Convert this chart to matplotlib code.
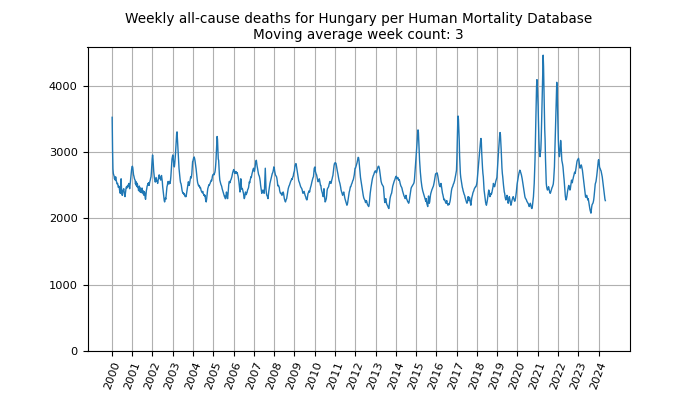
import datetime
import matplotlib
matplotlib.use("Agg")
import matplotlib.pyplot as plt

# weekly deaths (3-week moving average), one list per ISO year
deaths_2000 = [3530, 3050, 2750, 2680, 2660, 2640, 2600, 2620, 2580, 2630, 2590, 2560, 2540, 2520, 2530, 2500, 2470, 2490, 2480, 2430, 2400, 2380, 2480, 2600, 2460, 2390, 2350, 2400, 2420, 2440, 2450, 2390, 2350, 2330, 2380, 2430, 2470, 2480, 2460, 2490, 2500, 2480, 2510, 2530, 2490, 2450, 2500, 2560, 2630, 2680, 2740, 2780]
deaths_2001 = [2790, 2770, 2720, 2660, 2640, 2610, 2590, 2580, 2520, 2560, 2500, 2540, 2480, 2520, 2470, 2460, 2420, 2470, 2490, 2440, 2400, 2460, 2440, 2390, 2430, 2460, 2400, 2420, 2370, 2410, 2350, 2400, 2380, 2310, 2290, 2360, 2420, 2450, 2490, 2500, 2530, 2510, 2540, 2500, 2530, 2560, 2580, 2610, 2630, 2700, 2800, 2900]
deaths_2002 = [2960, 2900, 2800, 2710, 2650, 2600, 2580, 2550, 2590, 2620, 2590, 2560, 2570, 2530, 2570, 2610, 2640, 2660, 2630, 2600, 2620, 2580, 2630, 2650, 2610, 2560, 2480, 2430, 2380, 2320, 2270, 2250, 2280, 2310, 2290, 2350, 2420, 2480, 2500, 2540, 2560, 2530, 2520, 2550, 2560, 2530, 2570, 2630, 2720, 2830, 2900, 2930]
deaths_2003 = [2960, 2930, 2850, 2800, 2780, 2830, 2900, 2980, 3080, 3200, 3290, 3310, 3200, 3080, 2960, 2850, 2760, 2700, 2640, 2580, 2540, 2530, 2500, 2460, 2420, 2400, 2380, 2390, 2380, 2360, 2370, 2350, 2330, 2340, 2330, 2360, 2400, 2440, 2480, 2530, 2555, 2540, 2500, 2520, 2560, 2600, 2630, 2610, 2630, 2680, 2780, 2860]
deaths_2004 = [2870, 2900, 2920, 2930, 2910, 2880, 2840, 2800, 2750, 2690, 2630, 2580, 2540, 2520, 2500, 2490, 2500, 2480, 2460, 2470, 2450, 2420, 2410, 2400, 2390, 2410, 2380, 2370, 2350, 2360, 2340, 2350, 2300, 2270, 2250, 2290, 2350, 2400, 2450, 2470, 2490, 2510, 2500, 2520, 2530, 2550, 2560, 2580, 2570, 2600, 2640, 2660]
deaths_2005 = [2670, 2660, 2680, 2690, 2720, 2780, 2860, 2980, 3120, 3240, 3200, 3050, 2900, 2880, 2760, 2650, 2580, 2555, 2530, 2510, 2500, 2480, 2450, 2430, 2410, 2390, 2370, 2350, 2330, 2340, 2300, 2300, 2340, 2400, 2380, 2330, 2300, 2360, 2440, 2510, 2555, 2560, 2540, 2560, 2580, 2590, 2610, 2630, 2660, 2690, 2710, 2730]
deaths_2006 = [2740, 2720, 2690, 2680, 2700, 2710, 2690, 2700, 2680, 2690, 2660, 2640, 2600, 2560, 2500, 2450, 2400, 2480, 2600, 2500, 2470, 2440, 2450, 2430, 2400, 2380, 2330, 2300, 2320, 2360, 2400, 2390, 2360, 2380, 2390, 2420, 2440, 2450, 2470, 2510, 2555, 2540, 2580, 2600, 2630, 2620, 2650, 2680, 2700, 2730, 2750, 2760]
deaths_2007 = [2740, 2710, 2740, 2790, 2840, 2870, 2880, 2830, 2790, 2760, 2720, 2690, 2660, 2650, 2630, 2600, 2560, 2500, 2460, 2420, 2380, 2400, 2420, 2430, 2410, 2400, 2380, 2450, 2620, 2760, 2600, 2430, 2380, 2350, 2340, 2320, 2300, 2360, 2410, 2450, 2490, 2530, 2555, 2580, 2600, 2630, 2650, 2680, 2690, 2710, 2740, 2780]
deaths_2008 = [2770, 2720, 2690, 2660, 2650, 2640, 2630, 2600, 2560, 2500, 2490, 2500, 2480, 2470, 2420, 2400, 2380, 2390, 2370, 2360, 2350, 2370, 2390, 2400, 2380, 2340, 2300, 2280, 2260, 2250, 2270, 2290, 2300, 2340, 2380, 2420, 2450, 2470, 2490, 2500, 2520, 2540, 2555, 2570, 2580, 2600, 2590, 2610, 2630, 2640, 2680, 2700]
deaths_2009 = [2720, 2780, 2810, 2820, 2830, 2800, 2760, 2720, 2680, 2640, 2600, 2570, 2555, 2540, 2520, 2500, 2480, 2470, 2460, 2450, 2430, 2400, 2380, 2390, 2400, 2410, 2380, 2360, 2340, 2330, 2300, 2290, 2280, 2300, 2340, 2380, 2390, 2400, 2420, 2400, 2430, 2460, 2480, 2500, 2530, 2555, 2580, 2600, 2620, 2630, 2690, 2760]
deaths_2010 = [2780, 2710, 2690, 2670, 2660, 2630, 2600, 2580, 2555, 2570, 2590, 2600, 2570, 2530, 2500, 2500, 2450, 2420, 2400, 2380, 2350, 2330, 2380, 2450, 2350, 2300, 2250, 2260, 2280, 2300, 2350, 2420, 2450, 2460, 2470, 2480, 2510, 2530, 2555, 2560, 2540, 2530, 2550, 2580, 2600, 2630, 2650, 2700, 2750, 2800, 2830, 2840]
deaths_2011 = [2830, 2840, 2830, 2800, 2760, 2730, 2700, 2670, 2630, 2600, 2570, 2550, 2530, 2500, 2470, 2430, 2410, 2390, 2370, 2350, 2370, 2390, 2400, 2360, 2330, 2300, 2280, 2260, 2240, 2220, 2200, 2210, 2240, 2280, 2320, 2360, 2400, 2420, 2450, 2480, 2480, 2500, 2520, 2530, 2550, 2570, 2580, 2600, 2630, 2660, 2710, 2760]
deaths_2012 = [2760, 2780, 2800, 2820, 2840, 2870, 2900, 2925, 2920, 2880, 2810, 2740, 2680, 2620, 2580, 2540, 2500, 2460, 2420, 2380, 2350, 2320, 2300, 2290, 2280, 2260, 2240, 2250, 2270, 2260, 2230, 2210, 2200, 2190, 2180, 2200, 2250, 2320, 2380, 2430, 2470, 2510, 2550, 2580, 2610, 2630, 2650, 2660, 2680, 2700, 2710, 2720]
deaths_2013 = [2720, 2700, 2690, 2710, 2740, 2760, 2780, 2790, 2790, 2770, 2740, 2700, 2650, 2600, 2560, 2540, 2520, 2510, 2500, 2490, 2480, 2400, 2320, 2260, 2240, 2280, 2300, 2260, 2230, 2210, 2200, 2190, 2170, 2160, 2150, 2200, 2260, 2300, 2330, 2350, 2370, 2380, 2420, 2460, 2490, 2510, 2530, 2550, 2570, 2580, 2600, 2620]
deaths_2014 = [2630, 2640, 2620, 2600, 2610, 2620, 2600, 2580, 2590, 2580, 2560, 2530, 2510, 2490, 2480, 2470, 2450, 2420, 2400, 2380, 2360, 2340, 2330, 2320, 2300, 2330, 2350, 2320, 2290, 2280, 2260, 2250, 2240, 2230, 2250, 2290, 2340, 2380, 2420, 2450, 2470, 2480, 2490, 2500, 2510, 2520, 2530, 2550, 2600, 2680, 2760, 2830]
deaths_2015 = [2900, 3000, 3100, 3200, 3280, 3340, 3300, 3150, 3000, 2880, 2780, 2700, 2630, 2570, 2520, 2480, 2450, 2420, 2400, 2380, 2360, 2340, 2320, 2300, 2280, 2260, 2300, 2250, 2220, 2200, 2180, 2260, 2340, 2280, 2230, 2250, 2300, 2350, 2380, 2400, 2420, 2440, 2450, 2470, 2480, 2500, 2530, 2560, 2600, 2640, 2670, 2680]
deaths_2016 = [2680, 2690, 2670, 2640, 2600, 2560, 2530, 2500, 2490, 2480, 2500, 2530, 2500, 2460, 2420, 2380, 2360, 2330, 2300, 2280, 2290, 2280, 2260, 2240, 2230, 2250, 2270, 2230, 2220, 2200, 2210, 2220, 2210, 2230, 2250, 2280, 2330, 2380, 2420, 2450, 2470, 2480, 2500, 2520, 2530, 2550, 2570, 2600, 2630, 2660, 2700, 2730]
deaths_2017 = [2900, 3190, 3400, 3550, 3500, 3350, 3190, 2950, 2800, 2680, 2620, 2580, 2540, 2500, 2470, 2450, 2420, 2400, 2380, 2360, 2350, 2320, 2300, 2280, 2260, 2240, 2230, 2250, 2280, 2330, 2300, 2270, 2320, 2310, 2260, 2230, 2200, 2250, 2300, 2330, 2350, 2380, 2400, 2410, 2430, 2450, 2460, 2470, 2480, 2480, 2500, 2520]
deaths_2018 = [2560, 2630, 2700, 2760, 2830, 2900, 2960, 3030, 3120, 3180, 3210, 3150, 2980, 2860, 2760, 2680, 2630, 2520, 2430, 2380, 2330, 2280, 2240, 2220, 2200, 2230, 2260, 2300, 2330, 2380, 2430, 2400, 2360, 2330, 2340, 2360, 2380, 2370, 2390, 2420, 2450, 2480, 2530, 2510, 2490, 2480, 2500, 2530, 2560, 2580, 2600, 2620]
deaths_2019 = [2720, 2830, 2930, 3000, 3090, 3170, 3250, 3300, 3270, 3160, 3040, 2900, 2760, 2680, 2630, 2560, 2500, 2450, 2400, 2380, 2330, 2300, 2280, 2290, 2320, 2350, 2320, 2280, 2230, 2260, 2300, 2330, 2300, 2260, 2230, 2200, 2220, 2250, 2280, 2300, 2320, 2330, 2310, 2290, 2270, 2260, 2280, 2310, 2350, 2400, 2460, 2520]
deaths_2020 = [2560, 2600, 2630, 2660, 2690, 2710, 2730, 2720, 2700, 2680, 2660, 2630, 2600, 2560, 2520, 2480, 2440, 2400, 2360, 2330, 2310, 2300, 2290, 2280, 2260, 2250, 2240, 2230, 2220, 2200, 2180, 2190, 2210, 2230, 2210, 2180, 2160, 2150, 2170, 2220, 2280, 2330, 2420, 2530, 2700, 2880, 3150, 3440, 3750, 4000, 4100, 4000]
deaths_2021 = [3700, 3440, 3200, 3050, 2950, 2935, 3000, 3040, 3200, 3450, 3690, 3950, 4200, 4470, 4300, 3950, 3600, 3350, 3190, 2900, 2700, 2530, 2480, 2450, 2430, 2440, 2460, 2480, 2450, 2420, 2400, 2380, 2390, 2410, 2430, 2450, 2470, 2480, 2500, 2520, 2580, 2670, 2780, 3000, 3220, 3440, 3700, 3920, 4060, 3950, 3700, 3400]
deaths_2022 = [3190, 3050, 2960, 2935, 3000, 3100, 3180, 3120, 3000, 2880, 2850, 2820, 2780, 2700, 2640, 2580, 2500, 2420, 2340, 2300, 2280, 2300, 2330, 2380, 2420, 2450, 2480, 2500, 2470, 2440, 2430, 2450, 2500, 2540, 2580, 2560, 2540, 2580, 2600, 2630, 2650, 2680, 2700, 2680, 2700, 2740, 2780, 2820, 2860, 2880, 2890, 2900]
deaths_2023 = [2910, 2880, 2830, 2780, 2760, 2780, 2800, 2810, 2790, 2760, 2730, 2680, 2620, 2580, 2530, 2480, 2420, 2380, 2330, 2320, 2340, 2350, 2330, 2300, 2280, 2300, 2260, 2220, 2180, 2150, 2120, 2100, 2080, 2130, 2180, 2210, 2220, 2230, 2250, 2280, 2330, 2400, 2480, 2520, 2540, 2560, 2600, 2650, 2700, 2760, 2830, 2880]
deaths_2024 = [2890, 2850, 2780, 2760, 2750, 2730, 2720, 2690, 2660, 2630, 2580, 2530, 2480, 2430, 2380, 2330, 2290, 2270]

years = list(range(2000, 2025))
yearly = [deaths_2000, deaths_2001, deaths_2002, deaths_2003, deaths_2004,
          deaths_2005, deaths_2006, deaths_2007, deaths_2008, deaths_2009,
          deaths_2010, deaths_2011, deaths_2012, deaths_2013, deaths_2014,
          deaths_2015, deaths_2016, deaths_2017, deaths_2018, deaths_2019,
          deaths_2020, deaths_2021, deaths_2022, deaths_2023, deaths_2024]

dates = []
values = []
for year, vals in zip(years, yearly):
    for i, v in enumerate(vals):
        # thursday of each ISO week
        dates.append(datetime.date.fromisocalendar(year, i + 1, 4))
        values.append(v)

plt.rcParams['font.size'] = 8.2

fig, ax = plt.subplots(figsize=(7, 3.94), dpi=100)
ax.plot(dates, values, color="#1f77b4", linewidth=1.0)
ax.set_ylim(bottom=0)
ax.set_yticks([0, 1000, 2000, 3000, 4000])
ax.set_xticks([datetime.date(y, 1, 1) for y in years])
ax.set_xticklabels([str(y) for y in years], rotation=70)
ax.grid(True)
ax.set_title("Weekly all-cause deaths for Hungary per Human Mortality Database\n"
             "Moving average week count: 3")
fig.savefig("out.png")
